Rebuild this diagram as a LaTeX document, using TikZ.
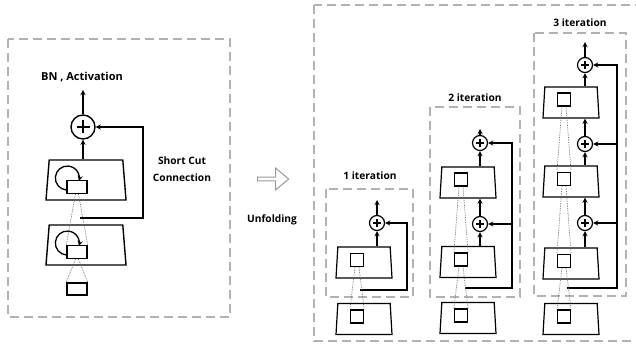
\documentclass[tikz,border=0pt]{standalone}
\usepackage{fontspec}
\setmainfont{Open Sans}
\usetikzlibrary{shapes.geometric, shapes.arrows, arrows}
\tikzstyle{frame} = [draw=black!30, line width=1.3pt, dash pattern=on 9pt off 5pt]
\tikzstyle{txt} = [font=\bfseries\fontsize{10.2}{17}\selectfont, align=center, inner sep=0pt]
\tikzstyle{layerbig} = [trapezium, trapezium left angle=87.5, trapezium right angle=87.5, trapezium stretches=true, minimum width=80pt, minimum height=40pt, inner sep=1pt, draw, line width=1.4pt, fill=white]
\tikzstyle{layer} = [trapezium, trapezium left angle=88, trapezium right angle=88, trapezium stretches=true, minimum width=56pt, minimum height=31pt, inner sep=1pt, draw, line width=1.2pt, fill=white]
\tikzstyle{cellbig} = [rectangle, minimum width=20pt, minimum height=13pt, inner sep=0pt, draw, line width=1.4pt, fill=white]
\tikzstyle{cell} = [rectangle, minimum size=13pt, inner sep=0pt, draw, line width=1.2pt, fill=white]
\tikzstyle{sumbig} = [circle, draw, line width=1.4pt, minimum size=24pt, inner sep=0pt, path picture={\draw [line width=1.7pt] ([xshift=-6.5pt]path picture bounding box.center) -- ([xshift=6.5pt]path picture bounding box.center) ([yshift=-6.5pt]path picture bounding box.center) -- ([yshift=6.5pt]path picture bounding box.center);}]
\tikzstyle{sum} = [circle, draw, line width=1.2pt, minimum size=15pt, inner sep=0pt, path picture={\draw [line width=1.3pt] ([xshift=-4pt]path picture bounding box.center) -- ([xshift=4pt]path picture bounding box.center) ([yshift=-4pt]path picture bounding box.center) -- ([yshift=4pt]path picture bounding box.center);}]
\tikzstyle{unfold} = [single arrow, draw=black!40, line width=1pt, minimum height=31pt, minimum width=22pt, single arrow head extend=7pt, single arrow tip angle=80, inner sep=1pt]
\tikzstyle{arrow} = [line width=1.3pt, ->, >=stealth]
\tikzstyle{dots} = [densely dotted, black!60, line width=0.7pt]

\begin{document}
\begin{tikzpicture}[x=1pt, y=-1pt]
            \useasboundingbox (0,0) rectangle (636,344);

            \draw [frame] (8,39) rectangle (230,317);
            \draw [frame] (314,5) rectangle (640,341);
            \draw [frame] (326,189) rectangle (413,297);
            \draw [frame] (430,107) rectangle (520,297);
            \draw [frame] (534,33) rectangle (626,296);

            \node [txt, font=\bfseries\fontsize{11}{17}\selectfont] at (82,77) (bnL) {BN , Activation};
            \node [sumbig] at (83,127) (sumL) {};
            \node [layerbig] at (86,180) (boxLa) {};
            \node [cellbig] at (77,187) (cellLa) {};
            \node [layerbig] at (86,245) (boxLb) {};
            \node [cellbig] at (77,252) (cellLb) {};
            \node [cellbig, minimum height=12pt] at (77,289) (inL) {};
            \node [txt] at (182,169) (scTxt) {Short Cut\\Connection};
            \coordinate (outL) at (83,90);
            \coordinate (scL) at (80,218);
            \coordinate (scLc) at (143,218);

            \node [unfold] at (272,179) (unf) {};
            \node [txt] at (272,220) (unfTxt) {Unfolding};

            \node [txt] at (370,176) (it1) {1 iteration};
            \node [sum] at (377,223) (s1a) {};
            \node [layer] at (364,262.5) (b1a) {};
            \node [cell] at (357,260) (q1a) {};
            \node [layer] at (364,319) (b1in) {};
            \node [cell] at (357,316.5) (q1in) {};
            \coordinate (o1) at (377,200);
            \coordinate (sc1) at (360,290);
            \coordinate (sc1c) at (407,290);

            \node [txt] at (475,98) (it2) {2 iteration};
            \node [sum] at (480,143) (s2a) {};
            \node [layer] at (468,182.5) (b2a) {};
            \node [cell] at (461,179.5) (q2a) {};
            \node [sum] at (480,224) (s2b) {};
            \node [layer] at (468,262) (b2b) {};
            \node [cell] at (461,259.5) (q2b) {};
            \node [layer] at (468,318) (b2in) {};
            \node [cell] at (461,315.5) (q2in) {};
            \coordinate (o2) at (480,129);
            \coordinate (sc2) at (465,288);
            \coordinate (sc2c) at (512,288);

            \node [txt] at (580,23) (it3) {3 iteration};
            \node [sum] at (585,65) (s3a) {};
            \node [layer] at (571,102.5) (b3a) {};
            \node [cell] at (564,99.5) (q3a) {};
            \node [sum] at (585,144) (s3b) {};
            \node [layer] at (571,181.5) (b3b) {};
            \node [cell] at (564,179) (q3b) {};
            \node [sum] at (585,223) (s3c) {};
            \node [layer] at (571,263.5) (b3c) {};
            \node [cell] at (564,261) (q3c) {};
            \node [layer] at (571,319) (b3in) {};
            \node [cell] at (564,316.5) (q3in) {};
            \coordinate (o3) at (585,42);
            \coordinate (sc3) at (567,288);
            \coordinate (sc3c) at (617,288);

            \draw [arrow] (sumL |- boxLa.north) -- (sumL);
            \draw [arrow] (sumL) -- (outL);
            \draw [arrow] (scL) -- (scLc) |- (sumL);
            \draw [arrow] ([yshift=-3pt]cellLa.west) arc [start angle=265, end angle=-14, radius=12pt];
            \draw [arrow] ([yshift=-3pt]cellLb.west) arc [start angle=265, end angle=-14, radius=12pt];
            \draw [dots] ([xshift=-1.5pt]cellLa.south) -- (cellLb.north west);
            \draw [dots] ([xshift=1.5pt]cellLa.south) -- (cellLb.north east);
            \draw [dots] ([xshift=-1.5pt]cellLb.south) -- (inL.north west);
            \draw [dots] ([xshift=1.5pt]cellLb.south) -- (inL.north east);

            \draw [arrow] (s1a |- b1a.north) -- (s1a);
            \draw [arrow] (s1a) -- (o1);
            \draw [arrow] (sc1) -- (sc1c) |- (s1a);
            \draw [dots] ([xshift=-2pt]q1a.south) -- (q1in.north west);
            \draw [dots] ([xshift=2pt]q1a.south) -- (q1in.north east);

            \draw [arrow] (s2b |- b2b.north) -- (s2b);
            \draw [arrow] (s2b) -- (s2b |- b2a.south);
            \draw [arrow] (s2a |- b2a.north) -- (s2a);
            \draw [arrow] (s2a) -- (o2);
            \draw [arrow] (sc2) -- (sc2c) |- (s2a);
            \draw [arrow] (sc2c |- s2b) -- (s2b);
            \draw [dots] ([xshift=-2pt]q2a.south) -- (q2b.north west);
            \draw [dots] ([xshift=2pt]q2a.south) -- (q2b.north east);
            \draw [dots] ([xshift=-2pt]q2b.south) -- (q2in.north west);
            \draw [dots] ([xshift=2pt]q2b.south) -- (q2in.north east);

            \draw [arrow] (s3c |- b3c.north) -- (s3c);
            \draw [arrow] (s3c) -- (s3c |- b3b.south);
            \draw [arrow] (s3b |- b3b.north) -- (s3b);
            \draw [arrow] (s3b) -- (s3b |- b3a.south);
            \draw [arrow] (s3a |- b3a.north) -- (s3a);
            \draw [arrow] (s3a) -- (o3);
            \draw [arrow] (sc3) -- (sc3c) |- (s3a);
            \draw [arrow] (sc3c |- s3b) -- (s3b);
            \draw [arrow] (sc3c |- s3c) -- (s3c);
            \draw [dots] ([xshift=-2pt]q3a.south) -- (q3b.north west);
            \draw [dots] ([xshift=2pt]q3a.south) -- (q3b.north east);
            \draw [dots] ([xshift=-2pt]q3b.south) -- (q3c.north west);
            \draw [dots] ([xshift=2pt]q3b.south) -- (q3c.north east);
            \draw [dots] ([xshift=-2pt]q3c.south) -- (q3in.north west);
            \draw [dots] ([xshift=2pt]q3c.south) -- (q3in.north east);
            \end{tikzpicture}
\end{document}
